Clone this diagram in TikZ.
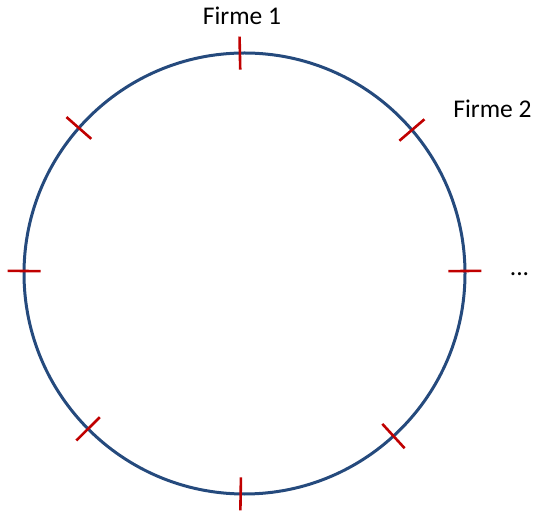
\documentclass[tikz,border=0pt]{standalone}
\usepackage{fontspec}
\setmainfont{Carlito}
\usetikzlibrary{calc}
\definecolor{ringblue}{HTML}{254A7D}
\definecolor{tickred}{HTML}{C00000}
\begin{document}
\begin{tikzpicture}[x=1pt,y=1pt,
  ringline/.style={draw=ringblue,line width=3pt},
  tickline/.style={draw=tickred,line width=2.6pt},
  lbl/.style={font=\fontsize{25.5}{30}\selectfont,anchor=base,inner sep=0pt}]
\useasboundingbox (0,0) rectangle (537,511);
\coordinate (c) at (244.5,237.5);
\draw[ringline] (c) circle[radius=220.5];
\foreach \a [count=\i] in {91.2,40.6,0.65,-47.5,-91,-135.2,179.35,138.7}{
  \coordinate (in\i) at ($(c)+(\a:204)$);
  \coordinate (out\i) at ($(c)+(\a:237)$);
  \draw[tickline] (in\i) -- (out\i);
}
\node[lbl] (f1) at (242,486) {Firme 1};
\node[lbl] (f2) at (492.5,393) {Firme 2};
\node[lbl] (dots) at (519.5,235.5) {...};
\end{tikzpicture}
\end{document}
